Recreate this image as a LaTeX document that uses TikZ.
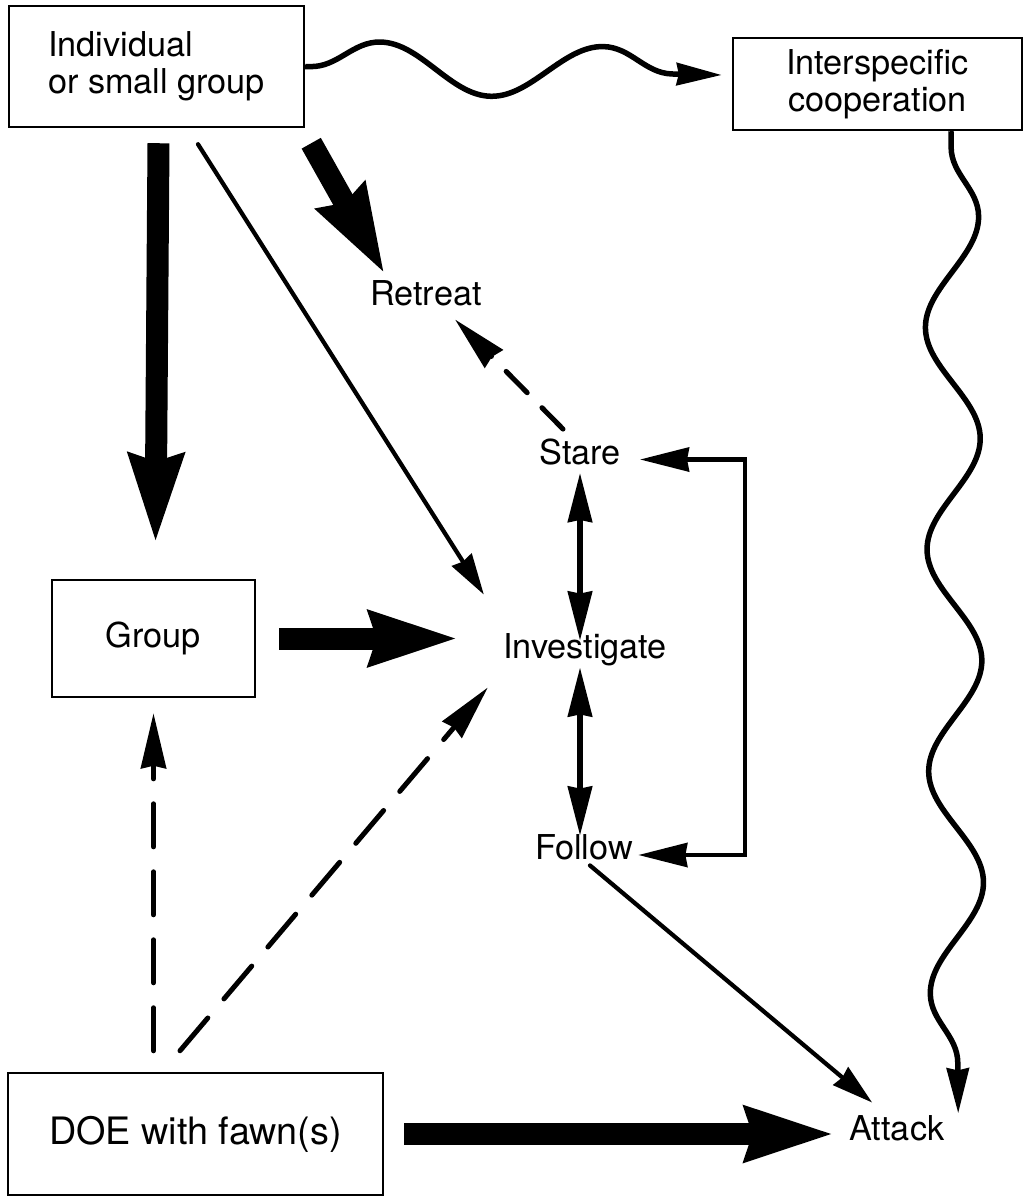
\documentclass[tikz,border=0pt]{standalone}
\usepackage{fontspec}
\setmainfont{TeX Gyre Heros}
\usetikzlibrary{arrows.meta, decorations.pathmorphing}

\begin{document}
\begin{tikzpicture}[x=0.02cm, y=-0.02cm,
    every node/.style={font=\fontsize{19.5}{21}\selectfont},
    tipL/.tip={Stealth[length=0.82cm, width=0.46cm, inset=0.04cm]},
    tipD/.tip={Stealth[length=0.98cm, width=0.48cm, inset=0.04cm]},
    tipH/.tip={Stealth[length=1.1cm, width=0.5cm, inset=0.05cm]},
    tipW/.tip={Stealth[length=0.9cm, width=0.44cm, inset=0.04cm]},
    tipB/.tip={Stealth[length=1.76cm, width=1.04cm, inset=0.12cm]},
    box/.style={rectangle, draw, line width=0.05cm, text centered},
    act/.style={inner sep=0.1cm, text height=0.72em, text depth=0.2em},
    line/.style={draw, line width=0.085cm, line cap=round, -tipL},
    twoway/.style={draw, line width=0.11cm, line cap=round, tipD-tipD},
    weak/.style={draw, line width=0.1cm, line cap=round, dash pattern=on 0.86cm off 0.5cm, -tipH},
    strong/.style={draw, line width=0.44cm, -tipB},
    wave/.style={draw, line width=0.11cm, -tipW, decorate}]

    \useasboundingbox (0,0) rectangle (1028,1197);

    % Starting situations
    \node [box, minimum width=5.9cm, minimum height=2.42cm, align=left] (ind) at (156.5,66.5) {Individual\\or small group};
    \node [box, minimum width=5.78cm, minimum height=1.84cm, align=center] (coop) at (877.5,84) {Interspecific\\cooperation};
    \node [box, minimum width=4.06cm, minimum height=2.34cm] (grp) at (153.5,638.5) {Group};
    \node [box, minimum width=7.5cm, minimum height=2.44cm, font=\fontsize{21.5}{24}\selectfont] (doe) at (195.5,1134) {DOE with fawn(s)};

    % Responses
    \node [act] (ret) at (426,301) {Retreat};
    \node [act] (stare) at (580,459.5) {Stare};
    \node [act] (inv) at (585,654) {Investigate};
    \node [act] (fol) at (584,855) {Follow};
    \node [act] (att) at (897,1136) {Attack};
    \coordinate (loop) at (745,650);

    % From the individual
    \path [strong] ([shift={(2,15)}]ind.south) -- ([shift={(2,-35)}]grp.north);
    \path [line] ([shift={(41.5,16)}]ind.south) -- ([shift={(-14,-46)}]inv.north west);
    \path [strong] ([shift={(6,15)}]ind.south east) -- ([shift={(-41,-13)}]ret.north);
    \path [wave, decoration={snake, segment length=4.46cm, amplitude=0.52cm, pre length=0.1cm, post length=0.5cm}]
        (ind.east) -- ([shift={(-10,-9)}]coop.west);

    % Between the responses
    \path [weak, dash pattern=on 0.6cm off 0.42cm] ([shift={(-17,-17)}]stare.north) -- ([shift={(29,5)}]ret.south);
    \path [twoway] (stare.south) -- (stare.south |- inv.north);
    \path [twoway, shorten >=0.12cm] (stare.south |- inv.south) -- (stare.south |- fol.north);
    \path [twoway, line width=0.085cm] ([xshift=0.28cm]stare.east) -| (loop) |- (fol.east);
    \path [line] ([shift={(6,-3)}]fol.south) -- ([shift={(28,-20)}]att.north west);

    % From the group and the doe
    \path [strong, shorten <=0.46cm, shorten >=0.78cm] (grp.east) -- (grp.east -| inv.west);
    \path [weak, shorten <=0.42cm, shorten >=0.3cm] (grp.south |- doe.north) -- (grp.south);
    \path [weak] ([shift={(-15.5,-21)}]doe.north) -- ([shift={(-10,20)}]inv.south west);
    \path [strong, shorten <=0.4cm, shorten >=0.19cm] (doe.east) -- (doe.east -| att.west);

    % Cooperation leads to attack
    \path [wave, decoration={snake, segment length=4.44cm, amplitude=0.54cm, pre length=0.32cm, post length=0.6cm}]
        ([xshift=1.47cm]coop.south) -- ([shift={(8.4,-9.2)}]att.north east);

\end{tikzpicture}
\end{document}
